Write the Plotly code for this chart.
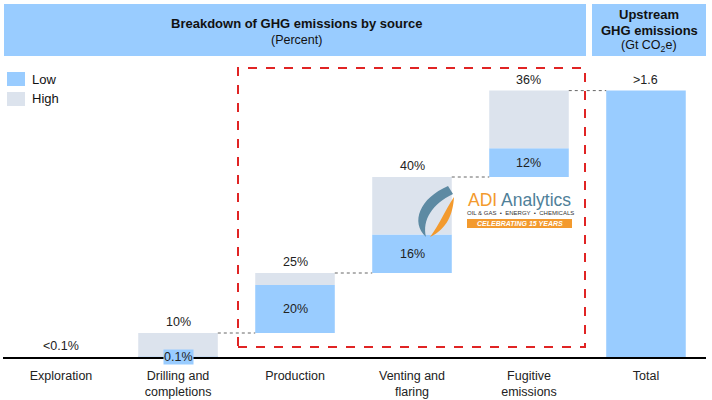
import plotly.graph_objects as go

# ---- data ----
categories = ["Exploration", "Drilling and<br>completions", "Production",
              "Venting and<br>flaring", "Fugitive<br>emissions", "Total"]
low_vals = [0, 0.1, 20, 16, 12]
high_vals = [0, 10, 25, 40, 36]
low_labels = ["", "0.1%", "20%", "16%", "12%"]
high_labels = ["<0.1%", "10%", "25%", "40%", "36%"]
total_label = ">1.6"

LOW_C = "#99ccff"
HIGH_C = "#dce3ed"
FONT = "Liberation Sans, Arial, sans-serif"
BW = 0.68

n = len(low_vals)
starts = []
c = 0
for h in high_vals:
    starts.append(c)
    c += h
total_val = c
xs = list(range(n))

fig = go.Figure()
fig.add_trace(go.Bar(x=xs, y=low_vals, base=starts, width=BW, marker_color=LOW_C,
                     marker_line_width=0, name="Low", showlegend=False))
fig.add_trace(go.Bar(x=xs, y=[h - l for h, l in zip(high_vals, low_vals)],
                     base=[s + l for s, l in zip(starts, low_vals)], width=BW,
                     marker_color=HIGH_C, marker_line_width=0, name="High", showlegend=False))
fig.add_trace(go.Bar(x=[n], y=[total_val], base=[0], width=BW, marker_color=LOW_C,
                     marker_line_width=0, name="Total", showlegend=False))

ann = []
# top labels
for i in range(n):
    ann.append(dict(x=i, y=starts[i] + high_vals[i], text=high_labels[i], showarrow=False,
                    xanchor="center", yanchor="bottom", yshift=2,
                    font=dict(size=12.5, color="#222", family=FONT)))
ann.append(dict(x=n, y=total_val, text=total_label, showarrow=False, xanchor="center",
                yanchor="bottom", yshift=2, font=dict(size=12.5, color="#222", family=FONT)))
# low labels
for i in range(n):
    if not low_labels[i]:
        continue
    small = low_vals[i] < 2
    ann.append(dict(x=i, y=starts[i] + low_vals[i] / 2, text=low_labels[i], showarrow=False,
                    xanchor="center", yanchor="middle", bgcolor=LOW_C if small else None, borderpad=0,
                    font=dict(size=12.5, color="#222", family=FONT)))

shapes = []
# connectors
for i in range(1, n):
    y = starts[i] + high_vals[i]
    shapes.append(dict(type="line", xref="x", yref="y", x0=i + BW / 2, x1=i + 1 - BW / 2,
                       y0=y, y1=y, line=dict(color="#666", width=1, dash="dot")))

# paper helpers: plot area from px 3..706, py 60..357
def px(v):
    return (v - 3) / 703.0

def py(v):
    return (357 - v) / 297.0

def txt(x, y, text, size=12.5, color="#111", xanchor="center", **kw):
    return dict(xref="paper", yref="paper", x=px(x), y=py(y), text=text, showarrow=False,
                xanchor=xanchor, yanchor="middle", font=dict(size=size, color=color, family=FONT), **kw)

# header boxes
shapes.append(dict(type="rect", xref="paper", yref="paper", x0=px(4), x1=px(586),
                   y0=py(56), y1=py(4), fillcolor=LOW_C, line_width=0, layer="below"))
shapes.append(dict(type="rect", xref="paper", yref="paper", x0=px(592), x1=px(706),
                   y0=py(56), y1=py(4), fillcolor=LOW_C, line_width=0, layer="below"))
ann.append(txt(296, 23, "<b>Breakdown of GHG emissions by source</b>", 13))
ann.append(txt(296, 40, "(Percent)"))
ann.append(txt(649, 15, "<b>Upstream</b>", 13))
ann.append(txt(649, 30, "<b>GHG emissions</b>", 13))
ann.append(txt(649, 46, "(Gt CO<sub>2</sub>e)"))

# custom legend
for (name, col, yc) in [("Low", LOW_C, 79), ("High", HIGH_C, 99)]:
    shapes.append(dict(type="rect", xref="paper", yref="paper", x0=px(7), x1=px(25),
                       y0=py(yc + 7), y1=py(yc - 7), fillcolor=col, line_width=0))
    ann.append(txt(30, yc, name, 13, xanchor="left"))

# red dashed highlight box
shapes.append(dict(type="rect", xref="paper", yref="paper", x0=px(238), x1=px(585),
                   y0=py(347), y1=py(68), line=dict(color="#e02424", width=2, dash="dash"),
                   fillcolor="rgba(0,0,0,0)"))

# logo (approximation)
shapes.append(dict(type="path", xref="paper", yref="paper",
                   path=f"M {px(448)},{py(186)} C {px(420)},{py(198)} {px(410)},{py(222)} {px(426)},{py(237)} "
                        f"C {px(422)},{py(220)} {px(432)},{py(204)} {px(453)},{py(194)} Z",
                   fillcolor="#5d8aa3", line_width=0))
shapes.append(dict(type="path", xref="paper", yref="paper",
                   path=f"M {px(454)},{py(197)} C {px(445)},{py(210)} {px(440)},{py(224)} {px(430)},{py(237)} "
                        f"C {px(447)},{py(229)} {px(453)},{py(214)} {px(454)},{py(197)} Z",
                   fillcolor="#f39a2e", line_width=0))
ann.append(txt(466, 200, "<span style='color:#f39a2e'>ADI</span> <span style='color:#4f7f99'>Analytics</span>",
               17.5, xanchor="left"))
ann.append(txt(520, 213, "OIL &amp; GAS  •  ENERGY  •  CHEMICALS", 6, "#333"))
shapes.append(dict(type="rect", xref="paper", yref="paper", x0=px(467), x1=px(572),
                   y0=py(228), y1=py(219), fillcolor="#f39a2e", line_width=0))
ann.append(txt(520, 223.5, "<b><i>CELEBRATING 15 YEARS</i></b>", 7, "white"))

fig.update_layout(
    width=712, height=400,
    margin=dict(l=3, r=6, t=60, b=43, autoexpand=False),
    paper_bgcolor="white", plot_bgcolor="white",
    barmode="overlay", showlegend=False,
    annotations=ann, shapes=shapes,
    xaxis=dict(range=[-0.496, 5.513], tickmode="array", tickvals=list(range(n + 1)),
               ticktext=categories, showgrid=False, zeroline=False, automargin=False,
               showline=True, linecolor="black", linewidth=1.5,
               ticks="outside", ticklen=6, tickcolor="rgba(0,0,0,0)",
               tickfont=dict(size=12.5, color="#222", family=FONT), fixedrange=True),
    yaxis=dict(range=[0, 297 / 2.4], visible=False, fixedrange=True, automargin=False),
)

fig.write_html("out.html", config={"displayModeBar": False},
               post_script="document.body.style.margin='0';document.body.style.padding='0';")
